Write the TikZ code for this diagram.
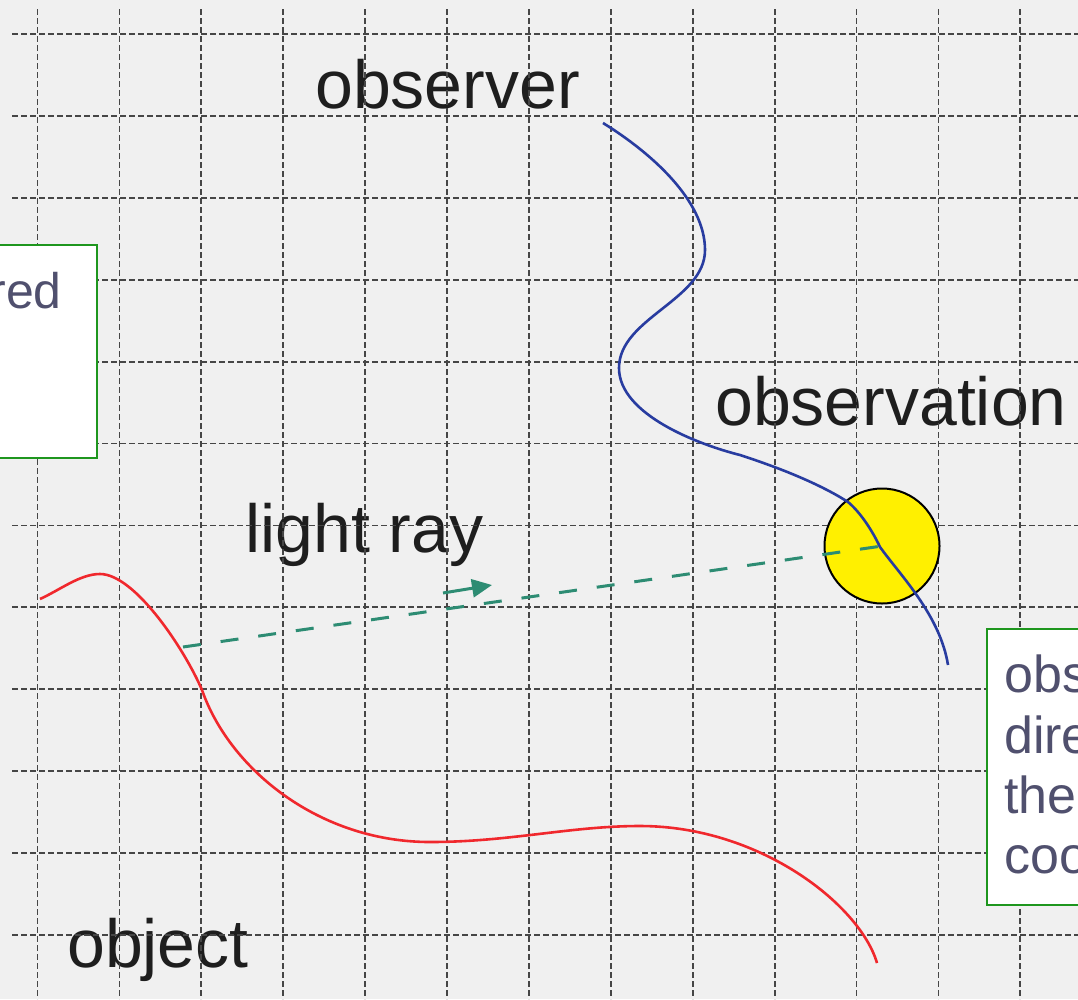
\documentclass[tikz,border=0pt]{standalone}
\usepackage{fontspec}
\setmainfont{Liberation Sans}
\usetikzlibrary{arrows.meta}
\definecolor{paper}{RGB}{240,240,240}
\definecolor{gridc}{RGB}{70,70,70}
\definecolor{boxgreen}{RGB}{30,150,30}
\definecolor{boxtext}{RGB}{80,80,110}
\definecolor{labeltext}{RGB}{30,30,30}
\definecolor{worldblue}{RGB}{40,60,160}
\definecolor{objred}{RGB}{240,40,45}
\definecolor{raygreen}{RGB}{45,140,115}
\definecolor{eventyellow}{RGB}{255,240,0}
\tikzset{
  biglabel/.style={inner sep=0pt, anchor=base west, text=labeltext, font=\fontsize{68}{80}\selectfont},
  boxlabel/.style={inner sep=0pt, text=boxtext, font=\fontsize{52}{61}\selectfont},
  gridline/.style={gridc, line width=1.8pt, dash pattern=on 6pt off 3pt},
  infobox/.style={draw=boxgreen, fill=white, line width=1.6pt, inner sep=0pt},
  worldline/.style={worldblue, line width=2.6pt},
  objline/.style={objred, line width=2.6pt},
  raystyle/.style={raygreen, line width=3pt, dash pattern=on 18pt off 20pt},
  rayarrow/.style={raygreen, line width=3pt, -{Triangle[length=20pt,width=18pt]}},
  eventdot/.style={circle, draw=black, fill=eventyellow, line width=2pt, minimum size=115pt, inner sep=0pt}
}
\begin{document}
\begin{tikzpicture}[x=1pt,y=-1pt]
\useasboundingbox (0,0) rectangle (1078,999);
\clip (0,0) rectangle (1078,999);
\fill[paper] (0,0) rectangle (1078,999);
% labels
\node[biglabel] (observer) at (315,108) {observer};
\node[biglabel] (observation) at (715,425) {observation};
\node[biglabel] (lightray) at (245,552) {light ray};
\node[biglabel] (object) at (67,967) {object};
% grid
\foreach \k in {0,...,11} \draw[gridline] (12,{34+81.9*\k}) -- (1078,{34+81.9*\k});
\foreach \k in {0,...,12} \draw[gridline] ({37.5+81.9*\k},9) -- ({37.5+81.9*\k},999);
% boxes
\node[infobox, minimum width=107pt, minimum height=213pt] (leftbox) at (43.5,351.5) {};
\node[boxlabel, anchor=base east, font=\fontsize{50}{60}\selectfont] (leftword) at (62,308) {red};
\node[infobox, minimum width=103pt, minimum height=276pt] (rightbox) at (1038.5,767) {};
\node[boxlabel, anchor=base west] (rw1) at (1004,692) {obs};
\node[boxlabel, anchor=base west] (rw2) at (1004,753) {dire};
\node[boxlabel, anchor=base west] (rw3) at (1004,813) {the};
\node[boxlabel, anchor=base west] (rw4) at (1004,873) {coo};
% object
\draw[objline] (40,599) .. controls (60,590) and (80,574) .. (100,574)
  .. controls (135,574) and (185,650) .. (202,690)
  .. controls (230,770) and (320,842) .. (430,842)
  .. controls (510,842) and (570,826) .. (640,826)
  .. controls (760,826) and (860,905) .. (877,963);
% event
\node[eventdot] (event) at (882,546) {};
% observer
\draw[worldline] (603,123) .. controls (650,152) and (705,200) .. (705,250)
  .. controls (705,300) and (619,318) .. (619,368)
  .. controls (619,415) and (700,445) .. (740,455)
  .. controls (780,468) and (820,484) .. (848,502)
  .. controls (860,512) and (872,530) .. (880,547)
  .. controls (900,575) and (940,615) .. (948,665);
% light ray
\coordinate (emit) at (183,647);
\draw[raystyle] (emit) -- (event.center);
\coordinate (arrtail) at (443,593);
\coordinate (arrhead) at (492,585);
\draw[rayarrow] (arrtail) -- (arrhead);
\end{tikzpicture}
\end{document}
